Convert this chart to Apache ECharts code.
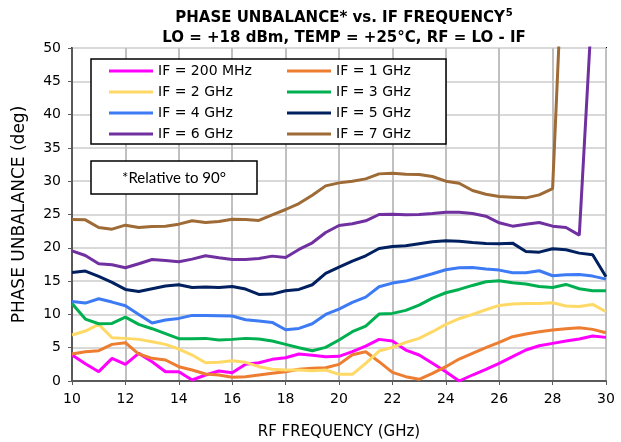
<!DOCTYPE html>
<html>
<head>
<meta charset="utf-8">
<script src="https://cdn.jsdelivr.net/npm/echarts@6/dist/echarts.min.js"></script>
<style>
html, body { margin: 0; padding: 0; background: #fff; }
#c_chart { width: 621px; height: 442px; }
</style>
</head>
<body>
<div id="c_chart"></div>
<script>
// RF frequency, GHz (step 0.5)
var freq = [10, 10.5, 11, 11.5, 12, 12.5, 13, 13.5, 14, 14.5, 15, 15.5, 16, 16.5, 17, 17.5, 18, 18.5, 19, 19.5, 20,
  20.5, 21, 21.5, 22, 22.5, 23, 23.5, 24, 24.5, 25, 25.5, 26, 26.5, 27, 27.5, 28, 28.5, 29, 29.5, 30];

var names = ['IF = 200 MHz', 'IF = 1 GHz', 'IF = 2 GHz', 'IF = 3 GHz', 'IF = 4 GHz', 'IF = 5 GHz', 'IF = 6 GHz', 'IF = 7 GHz'];
var colors = ['#FF00FF', '#ED7D31', '#FFD966', '#00B050', '#3D7BF5', '#002060', '#7030A0', '#9E6A35'];

// phase unbalance, deg
var if200 = [3.9, 2.6, 1.4, 3.4, 2.5, 4.15, 2.9, 1.4, 1.4, 0.15, 0.9, 1.5, 1.25, 2.5, 2.75, 3.25, 3.5, 4.05, 3.85, 3.65, 3.7,
  4.4, 5.25, 6.25, 6.0, 4.65, 3.9, 2.65, 1.4, 0.0, 0.9, 1.75, 2.65, 3.65, 4.65, 5.3, 5.65, 6.0, 6.3, 6.75, 6.55];
var if1 = [4.05, 4.4, 4.55, 5.5, 5.75, 4.05, 3.4, 3.15, 2.15, 1.65, 1.05, 0.9, 0.55, 0.65, 0.9, 1.15, 1.4, 1.75, 1.9, 2.0, 2.5,
  3.95, 4.4, 2.9, 1.3, 0.65, 0.25, 1.15, 2.15, 3.3, 4.15, 5.0, 5.8, 6.65, 7.05, 7.4, 7.65, 7.85, 8.0, 7.75, 7.25];
var if2 = [6.9, 7.5, 8.5, 6.5, 6.4, 6.25, 5.9, 5.5, 4.8, 3.9, 2.75, 2.8, 3.05, 2.8, 2.15, 1.75, 1.65, 1.65, 1.55, 1.65, 1.0,
  1.0, 2.65, 4.5, 5.05, 5.8, 6.4, 7.4, 8.5, 9.35, 10.0, 10.7, 11.35, 11.55, 11.65, 11.65, 11.75, 11.25, 11.2, 11.5, 10.4];
var if3 = [11.65, 9.3, 8.6, 8.65, 9.6, 8.5, 7.85, 7.1, 6.35, 6.35, 6.4, 6.15, 6.25, 6.4, 6.3, 6.0, 5.5, 5.0, 4.55, 5.05, 6.15,
  7.4, 8.25, 10.05, 10.15, 10.6, 11.4, 12.45, 13.25, 13.75, 14.35, 14.9, 15.05, 14.75, 14.55, 14.2, 14.05, 14.5, 13.85, 13.55, 13.55];
var if4 = [11.95, 11.7, 12.35, 11.85, 11.3, 10.0, 8.7, 9.15, 9.4, 9.85, 9.85, 9.8, 9.75, 9.2, 9.0, 8.8, 7.7, 7.9, 8.6, 10.0, 10.8,
  11.8, 12.6, 14.15, 14.7, 15.0, 15.55, 16.1, 16.7, 17.0, 17.05, 16.8, 16.65, 16.25, 16.25, 16.55, 15.8, 15.95, 16.0, 15.75, 15.3];
var if5 = [16.3, 16.5, 15.7, 14.8, 13.75, 13.45, 13.85, 14.25, 14.45, 14.05, 14.1, 14.05, 14.2, 13.8, 13.0, 13.05, 13.55, 13.75, 14.45, 16.15, 17.1,
  18.0, 18.8, 19.9, 20.2, 20.3, 20.6, 20.9, 21.05, 21.0, 20.8, 20.65, 20.6, 20.7, 19.45, 19.35, 19.85, 19.7, 19.2, 18.95, 15.65];
var if6 = [19.55, 18.85, 17.6, 17.45, 17.0, 17.6, 18.25, 18.1, 17.9, 18.3, 18.8, 18.5, 18.25, 18.25, 18.4, 18.75, 18.55, 19.75, 20.75, 22.3, 23.35,
  23.6, 24.05, 25.0, 25.05, 24.95, 25.0, 25.15, 25.35, 25.35, 25.15, 24.75, 23.75, 23.25, 23.55, 23.8, 23.25, 23.05, 21.9, 58, null];
var if7 = [24.25, 24.2, 23.05, 22.8, 23.4, 23.05, 23.2, 23.25, 23.55, 24.05, 23.8, 23.95, 24.3, 24.25, 24.1, 24.95, 25.75, 26.65, 27.9, 29.3, 29.75,
  30.0, 30.35, 31.1, 31.2, 31.05, 31.0, 30.7, 30.0, 29.7, 28.6, 28.05, 27.7, 27.6, 27.5, 27.95, 28.9, 75, null, null, null];

var vals = [if200, if1, if2, if3, if4, if5, if6, if7];

var dm = document.getElementById('c_chart');
var ch = echarts.init(dm);
var font = 'DejaVu Sans, sans-serif';

var series = vals.map(function (v, i) {
    return {
        name: names[i],
        type: 'line',
        data: freq.map(function (x, k) { return [x, v[k]]; }),
        symbol: 'none',
        clip: true,
        lineStyle: { width: 3, color: colors[i] },
        itemStyle: { color: colors[i] },
        z: 3
    };
});

function legendCol(data, left) {
    return {
        data: data,
        orient: 'vertical',
        left: left,
        top: 63,
        padding: 0,
        itemGap: 5,
        itemWidth: 44,
        itemHeight: 3,
        icon: 'rect',
        z: 7,
        textStyle: { fontFamily: font, fontSize: 14, color: '#000', lineHeight: 16 }
    };
}

var option = {
    animation: false,
    backgroundColor: '#fff',
    title: {
        text: '{t|PHASE UNBALANCE* vs. IF FREQUENCY}{s|5}\n{t|LO = +18 dBm, TEMP = +25°C, RF = LO - IF}',
        left: 344,
        textAlign: 'center',
        top: 8,
        padding: 0,
        textStyle: {
            rich: {
                t: { fontFamily: font, fontWeight: 'bold', fontSize: 15, color: '#000', lineHeight: 20 },
                s: { fontFamily: font, fontWeight: 'bold', fontSize: 10, color: '#000', verticalAlign: 'top', lineHeight: 20, padding: [0, 0, 8, 1] }
            }
        }
    },
    legend: [
        legendCol([names[0], names[2], names[4], names[6]], 109),
        legendCol([names[1], names[3], names[5], names[7]], 287)
    ],
    graphic: [{
        type: 'rect',
        z: 6,
        shape: { x: 91, y: 59, width: 355, height: 85 },
        style: { fill: '#fff', stroke: '#000', lineWidth: 1.5 }
    }, {
        type: 'rect',
        z: 6,
        shape: { x: 91, y: 161, width: 166, height: 33 },
        style: { fill: '#fff', stroke: '#000', lineWidth: 1.5 }
    }, {
        type: 'text',
        z: 7,
        x: 174, y: 178,
        style: { text: '*Relative to 90°', fontFamily: 'Lato, sans-serif', fontSize: 15, fill: '#000', align: 'center', verticalAlign: 'middle' }
    }],
    grid: {
        left: 72, right: 15, top: 48, bottom: 61,
        outerBoundsMode: 'none',
        show: true,
        borderColor: '#000',
        borderWidth: 2,
        backgroundColor: 'transparent'
    },
    xAxis: {
        type: 'value',
        min: 10, max: 30, interval: 2,
        name: 'RF FREQUENCY (GHz)',
        nameLocation: 'middle',
        nameGap: 44,
        nameTextStyle: { fontFamily: font, fontSize: 15, color: '#000' },
        axisLine: { onZero: false, lineStyle: { color: '#595959', width: 2 } },
        axisTick: { show: true, length: 4, lineStyle: { color: '#595959' } },
        axisLabel: { fontFamily: font, fontSize: 14, color: '#000', margin: 11 },
        splitLine: { show: true, lineStyle: { color: '#c0c0c0', width: 2 } }
    },
    yAxis: {
        type: 'value',
        min: 0, max: 50, interval: 5,
        name: 'PHASE UNBALANCE (deg)',
        nameLocation: 'middle',
        nameGap: 44,
        nameTextStyle: { fontFamily: font, fontSize: 17, color: '#000' },
        axisLine: { show: true, lineStyle: { color: '#595959', width: 2 } },
        axisTick: { show: true, length: 4, lineStyle: { color: '#595959' } },
        axisLabel: { fontFamily: font, fontSize: 14, color: '#000', margin: 11 },
        splitLine: { show: true, lineStyle: { color: '#d9d9d9', width: 2 } }
    },
    series: series
};

ch.setOption(option);
window.onresize = function () {
    ch.resize();
};
</script>
</body>
</html>
